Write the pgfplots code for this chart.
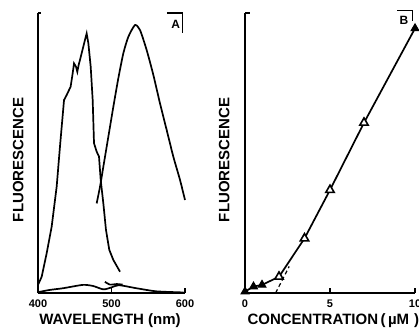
\documentclass[border=0pt]{standalone}
\usepackage{pgfplots}
\pgfplotsset{compat=1.18}
\usepackage{fontspec}
\setmainfont{Liberation Sans}
\setsansfont{Liberation Sans}

\pgfplotscreateplotcyclelist{blk}{black, line width=1.7pt, mark=none\\}

\pgfplotsset{
  panel/.style={
    scale only axis,
    axis x line=bottom, axis y line=left,
    axis line style={-, line width=1.7pt},
    ymin=0, ymax=100, ytick=\empty,
    clip=false,
    cycle list name=blk,
    tick style={black, line width=1.3pt},
    major tick length=5pt,
    xtick align=inside,
    /pgf/number format/assume math mode=true,
    ticklabel style={font=\fontsize{11}{13}\selectfont\bfseries},
    xticklabel style={yshift=-3pt},
    label style={font=\fontsize{15}{17}\selectfont\bfseries},
  }
}

\begin{document}
\begin{tikzpicture}

% ---------- A: excitation / emission spectra ----------
\begin{axis}[panel,
  at={(38pt,42pt)}, anchor=south west,
  width=147pt, height=280pt,
  xmin=400, xmax=600, xtick={400,500,600},
  xlabel={WAVELENGTH (nm)},
  ylabel={FLUORESCENCE},
  xlabel style={at={(rel axis cs:0.49,0)}, anchor=north, yshift=-17pt},
  ylabel style={at={(rel axis cs:0,0.475)}, anchor=south, yshift=11pt},
]
% excitation spectrum
\addplot coordinates {
 (400,2.9) (405,5.8) (411.8,14.2) (418.6,23.7) (425.4,38.0) (429.9,52.3)
 (435.4,68.9) (439.0,70.7) (444.4,73.7) (447.2,78.5) (449.0,82.0)
 (451.7,80.8) (453.5,79.0) (455.3,81.4) (459.4,85.6) (463.9,90.4)
 (466.2,92.7) (468.5,89.2) (471.7,80.8) (474.4,68.9) (476.2,53.5)
 (479.8,50.5) (483.0,48.7) (485.3,40.4) (488.9,32.0) (492.5,22.5)
 (497.0,15.4) (502.5,11.8) (511.6,7.6)
};
% emission spectrum
\addplot+[smooth, tension=0.4] coordinates {
 (479.8,32.0) (484.4,38.0) (488.9,45.1) (495.7,55.8) (502.5,66.5)
 (509.3,76.7) (516.1,85.6) (522.9,91.5) (532.0,95.7) (538.8,93.9)
 (547.8,86.8) (556.9,77.9) (566.0,67.7) (575.1,58.2) (584.1,48.7)
 (593.2,40.4) (600,33.2)
};
% blank traces near the baseline
\addplot+[smooth, tension=0.4] coordinates {
 (400,0.3) (416,1.1) (434,1.7) (461,2.9) (475,2.5) (489,1.3)
 (500,2.0) (510,2.8) (534,1.7) (561,0.6) (598,0.2)
};
\addplot+[smooth, tension=0.4] coordinates {
 (491,4.0) (498,3.0) (507,3.2) (515,3.0)
};
% top tick of the ordinate and panel tag
\draw[line width=1.3pt] (axis cs:400,100) -- (axis cs:404,100);
\draw[line width=1.3pt] (axis cs:575.5,100) -- (axis cs:597,100) -- (axis cs:597,92.9);
\node[font=\fontsize{12}{14}\selectfont\bfseries] at (axis cs:587.5,96) {A};
\end{axis}

% ---------- B: concentration dependence ----------
\begin{axis}[panel,
  at={(245pt,42pt)}, anchor=south west,
  width=170pt, height=280pt,
  xmin=0, xmax=10, xtick={0,5,10},
  xlabel={CONCENTRATION\,(\,µM\,\,)},
  ylabel={FLUORESCENCE},
  xlabel style={at={(rel axis cs:0.52,0)}, anchor=north, yshift=-17pt},
  ylabel style={at={(rel axis cs:0,0.475)}, anchor=south, yshift=12pt},
]
\addplot coordinates {
 (0,0.5) (0.5,2.3) (1.0,2.9) (2.0,5.8) (3.5,19.5) (5.0,36.8) (7.0,60.8) (10,94.5)
};
% extrapolation of the linear part to the abscissa
\addplot+[line width=1.2pt, dash pattern=on 4pt off 3pt] coordinates {
 (1.8,0) (2.6,9.5)
};
% measured points
\addplot+[only marks, mark=triangle*, mark size=4.8pt,
  mark options={fill=white, line width=1.6pt, solid}] coordinates {
 (2.0,5.8) (3.5,19.5) (5.0,36.8) (7.0,60.8)
};
\addplot+[only marks, mark=triangle*, mark size=4.5pt,
  mark options={fill=black, line width=1pt, solid}] coordinates {
 (0,0.5) (0.5,2.3) (1.0,2.9) (10,94.5)
};
\draw[line width=1.3pt] (axis cs:0,100) -- (axis cs:0.3,100);
\draw[line width=1.3pt] (axis cs:8.95,101) -- (axis cs:9.85,101) -- (axis cs:9.85,97);
\node[font=\fontsize{12}{14}\selectfont\bfseries] at (axis cs:9.35,97.3) {B};
\end{axis}

\pgfresetboundingbox
\path[use as bounding box] (0pt,0pt) rectangle (419pt,335pt);
\end{tikzpicture}
\end{document}
